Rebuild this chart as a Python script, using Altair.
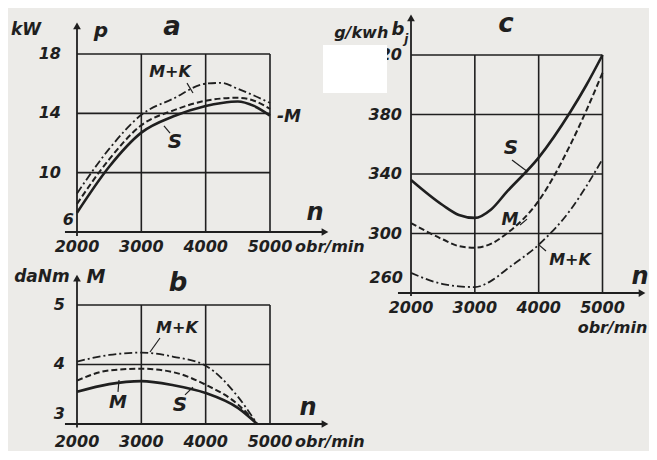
import altair as alt
import pandas as pd

BG = "#ecebe8"
INK = "#1f1f1f"
FONT = "DejaVu Sans"

N_TICKS = [2000, 3000, 4000, 5000]

# ---- panel a: power P [kW] vs engine speed n [obr/min]
A_N = [2000, 2500, 3000, 3500, 4000, 4250, 4500, 4750, 5000]
A_MK = [8.6, 11.6, 13.9, 15.0, 16.0, 16.05, 15.65, 15.2, 14.7]
A_M = [7.9, 10.9, 13.2, 14.2, 14.85, 15.0, 15.05, 14.85, 14.3]
A_S = [7.3, 10.4, 12.7, 13.8, 14.5, 14.7, 14.8, 14.5, 13.85]
A_YTICKS = [18, 14, 10]
A_YMIN = 6
A_YMAX = 18

# ---- panel b: torque M [daNm]
B_N = [2000, 2500, 3000, 3500, 4000, 4500, 4800]
B_MK = [4.05, 4.16, 4.2, 4.13, 3.98, 3.46, 3.0]
B_M = [3.73, 3.9, 3.93, 3.87, 3.66, 3.33, 3.0]
B_S = [3.54, 3.67, 3.72, 3.65, 3.52, 3.27, 3.0]
B_YTICKS = [5, 4]
B_YMIN = 3
B_YMAX = 5

# ---- panel c: specific fuel consumption b_j [g/kWh]
C_N = [2000, 2500, 2750, 3000, 3250, 3500, 4000, 4500, 4750, 5000]
C_S = [336, 319, 312.5, 310.5, 316, 328, 351, 382, 400, 420]
C_M = [307, 296, 291.5, 290.5, 293, 300, 322, 360, 383, 408]
C_MK = [273.5, 266, 264.5, 264, 268, 276, 292.5, 316, 332, 350]
C_YTICKS = [420, 380, 340, 300]
C_YMIN = 260
C_YMAX = 420


def scales(xdom, ydom):
    return (alt.Scale(domain=xdom, nice=False, zero=False),
            alt.Scale(domain=ydom, nice=False, zero=False))


def rules(rows, xs, ys, width=1.6):
    df = pd.DataFrame(rows, columns=["n", "n2", "v", "v2"])
    return alt.Chart(df).mark_rule(color=INK, strokeWidth=width).encode(
        x=alt.X("n:Q", scale=xs, axis=None), x2="n2:Q",
        y=alt.Y("v:Q", scale=ys, axis=None), y2="v2:Q")


def curve(n, v, xs, ys, width, dash=None):
    df = pd.DataFrame({"n": n, "v": v})
    kw = dict(color=INK, strokeWidth=width, interpolate="monotone")
    if dash:
        kw["strokeDash"] = dash
    return alt.Chart(df).mark_line(**kw).encode(
        x=alt.X("n:Q", scale=xs, axis=None), y=alt.Y("v:Q", scale=ys, axis=None))


def arrow(n, v, shape, xs, ys):
    df = pd.DataFrame({"n": [n], "v": [v]})
    return alt.Chart(df).mark_point(shape=shape, filled=True, size=60, color=INK, opacity=1).encode(
        x=alt.X("n:Q", scale=xs, axis=None), y=alt.Y("v:Q", scale=ys, axis=None))


def text(labels, ns, vs, xs, ys, size=16, align="center", dx=0, dy=0):
    df = pd.DataFrame({"label": labels, "n": ns, "v": vs})
    return alt.Chart(df).mark_text(font=FONT, fontSize=size, fontStyle="italic", fontWeight="bold",
                                   color=INK, align=align, baseline="middle", dx=dx, dy=dy).encode(
        x=alt.X("n:Q", scale=xs, axis=None), y=alt.Y("v:Q", scale=ys, axis=None), text="label:N")


def grid_rows(yticks, ymin, ymax):
    rows = [(g, g, ymin, ymax) for g in N_TICKS[1:]]
    rows += [(N_TICKS[0], N_TICKS[-1], t, t) for t in yticks if t != ymin]
    return rows


W, H = 640, 443
X_AB = [927.5, 10875.6]

# ---------------- panel a
xa, ya = scales(X_AB, [-8.764, 21.101])
A = alt.layer(
    rules(grid_rows(A_YTICKS, A_YMIN, A_YMAX), xa, ya),
    rules([(1813, 5855, A_YMIN, A_YMIN), (2000, 2000, 5.73, 19.9)], xa, ya, 1.8),
    arrow(2000, 19.9, "triangle-up", xa, ya),
    arrow(5855, A_YMIN, "triangle-right", xa, ya),
    curve(A_N, A_S, xa, ya, 2.6),
    curve(A_N, A_M, xa, ya, 2.0, [6, 3]),
    curve(A_N, A_MK, xa, ya, 1.8, [8, 3, 2, 3]),
    rules([(3710, 3803, 16.04, 15.37), (3352, 3446, 13.15, 12.67)], xa, ya, 1.2),
    text([str(t) for t in A_YTICKS], [2000] * 3, A_YTICKS, xa, ya, align="right", dx=-16),
    text([str(A_YMIN)], [2000], [A_YMIN], xa, ya, align="right", dx=-3, dy=-12),
    text([str(t) for t in N_TICKS], N_TICKS, [A_YMIN] * 4, xa, ya, dy=15),
    text(["obr/min"], [5000], [A_YMIN], xa, ya, align="left", dx=25, dy=15),
    text(["kW"], [1207], [19.62], xa, ya, size=17),
    text(["p"], [2373], [19.55], xa, ya, size=20),
    text(["a"], [3477], [19.82], xa, ya, size=26),
    text(["n"], [5700], [7.28], xa, ya, size=24),
    text(["M+K"], [3446], [16.79], xa, ya, size=16),
    text(["S"], [3523], [12.07], xa, ya, size=20),
    text(["-M"], [5295], [13.75], xa, ya, size=17),
)

# ---------------- panel b
xb, yb = scales(X_AB, [2.5462, 9.9916])
B = alt.layer(
    rules(grid_rows(B_YTICKS, B_YMIN, B_YMAX), xb, yb),
    rules([(1813, 5855, B_YMIN, B_YMIN), (2000, 2000, 2.94, 5.45)], xb, yb, 1.8),
    arrow(2000, 5.45, "triangle-up", xb, yb),
    arrow(5855, B_YMIN, "triangle-right", xb, yb),
    curve(B_N, B_S, xb, yb, 2.6),
    curve(B_N, B_M, xb, yb, 2.0, [6, 3]),
    curve(B_N, B_MK, xb, yb, 1.8, [8, 3, 2, 3]),
    rules([(3290, 3135, 4.445, 4.21), (2653, 2637, 3.74, 3.54), (3679, 3803, 3.49, 3.62)], xb, yb, 1.2),
    text([str(t) for t in B_YTICKS], [2000] * 2, B_YTICKS, xb, yb, align="right", dx=-12),
    text([str(B_YMIN)], [2000], [B_YMIN], xb, yb, align="right", dx=-12, dy=-10),
    text([str(t) for t in N_TICKS], N_TICKS, [B_YMIN] * 4, xb, yb, dy=18),
    text(["obr/min"], [5000], [B_YMIN], xb, yb, align="left", dx=25, dy=18),
    text(["daNm"], [1456], [5.47], xb, yb, size=17),
    text(["M"], [2295], [5.47], xb, yb, size=19),
    text(["b"], [3570], [5.37], xb, yb, size=26),
    text(["n"], [5591], [3.27], xb, yb, size=24),
    text(["M+K"], [3554], [4.61], xb, yb, size=16),
    text(["M"], [2637], [3.35], xb, yb, size=18),
    text(["S"], [3601], [3.32], xb, yb, size=20),
)

# ---------------- panel c
xc, yc = scales([-4313.4, 5712.8], [153.8, 451.6])
C = alt.layer(
    rules(grid_rows(C_YTICKS, C_YMIN, C_YMAX), xc, yc),
    rules([(1796, 5619, C_YMIN, C_YMIN), (2000, 2000, 258, 445)], xc, yc, 1.8),
    arrow(2000, 445, "triangle-up", xc, yc),
    arrow(5619, C_YMIN, "triangle-right", xc, yc),
    curve(C_N, C_S, xc, yc, 2.6),
    curve(C_N, C_M, xc, yc, 2.0, [6, 3]),
    curve(C_N, C_MK, xc, yc, 1.8, [8, 3, 2, 3]),
    rules([(3582, 3833, 349.4, 341.3), (3708, 3817, 305.7, 309.7), (3990, 4115, 292.9, 288.2)], xc, yc, 1.2),
    text([str(t) for t in C_YTICKS], [2000] * 4, C_YTICKS, xc, yc, align="right", dx=-9),
    text([str(C_YMIN)], [2000], [C_YMIN], xc, yc, align="right", dx=-8, dy=-15),
    text([str(t) for t in N_TICKS], N_TICKS, [C_YMIN] * 4, xc, yc, dy=15),
    text(["obr/min"], [5000], [C_YMIN], xc, yc, dx=10, dy=35),
    text(["g/kwh"], [1220], [434.8], xc, yc, size=16),
    text(["b"], [1796], [436.8], xc, yc, size=18),
    text(["j"], [1925], [431.0], xc, yc, size=12),
    text(["c"], [3488], [440.8], xc, yc, size=26),
    text(["n"], [5588], [270.8], xc, yc, size=24),
    text(["S"], [3567], [357.5], xc, yc, size=20),
    text(["M"], [3551], [309.1], xc, yc, size=17),
    text(["M+K"], [4491], [282.2], xc, yc, size=16),
)

# white patch that hides part of the top tick label in the reference scan
patch = alt.Chart(pd.DataFrame({"k": [0]})).mark_rect(color="white").encode(
    x=alt.value(315), x2=alt.value(379), y=alt.value(37), y2=alt.value(85))

chart = alt.layer(A, B, C, patch).resolve_scale(x="independent", y="independent").properties(
    width=W, height=H, background=BG, padding=0).configure_view(stroke=None)

chart.save("out.html", embed_options={"renderer": "svg", "actions": False})
